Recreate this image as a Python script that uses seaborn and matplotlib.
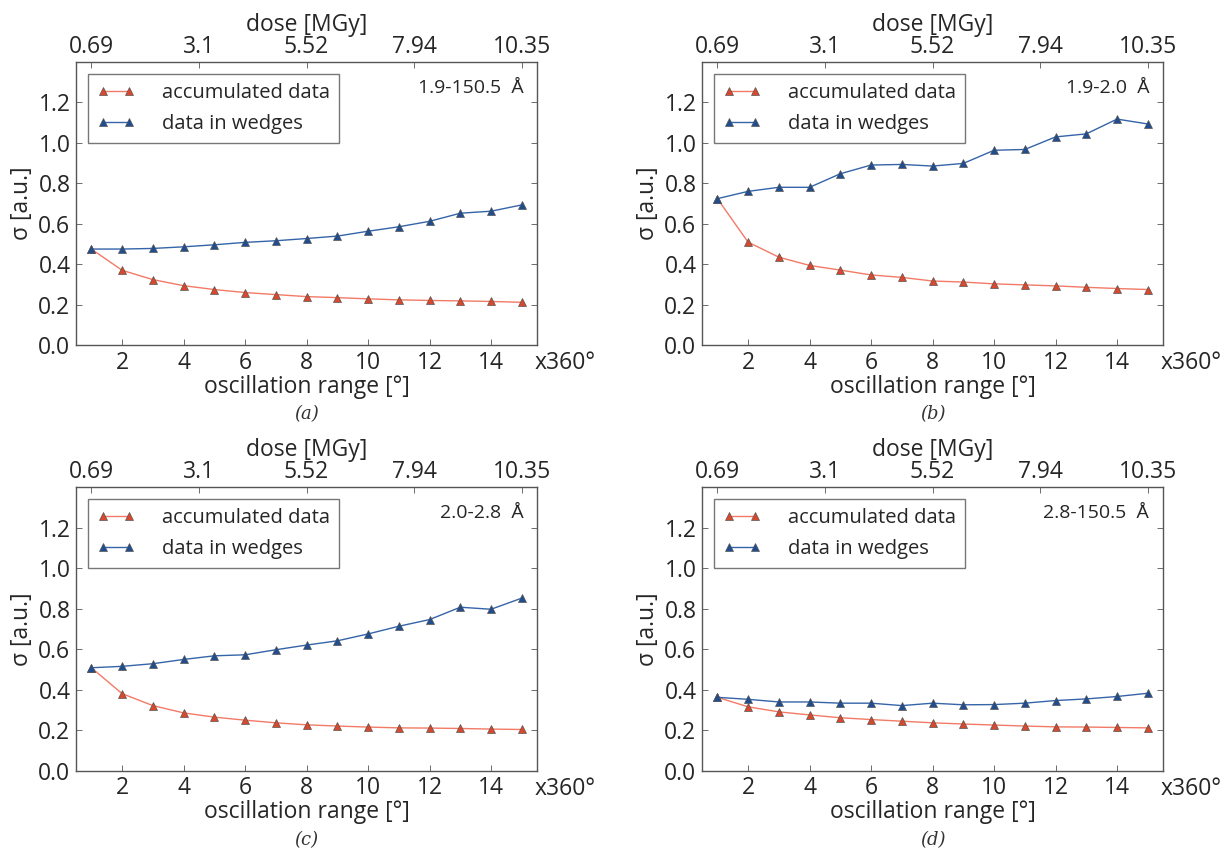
import matplotlib
matplotlib.use('Agg')
import matplotlib.pyplot as plt
import seaborn as sns
import pandas as pd

sns.set_style('white')
plt.rcParams['font.family'] = ['Open Sans', 'DejaVu Sans']
plt.rcParams['xtick.direction'] = 'in'
plt.rcParams['ytick.direction'] = 'in'

rotations = list(range(1, 16))
dose_ticks = [1, 4.5, 8, 11.5, 15]
dose_labels = ['0.69', '3.1', '5.52', '7.94', '10.35']

shells = ['1.9-150.5  Å', '1.9-2.0  Å', '2.0-2.8  Å', '2.8-150.5  Å']
captions = ['(a)', '(b)', '(c)', '(d)']

accum_a = [0.474, 0.369, 0.323, 0.293, 0.274, 0.259, 0.249, 0.239, 0.234, 0.228, 0.223, 0.220, 0.218, 0.215, 0.211]
wedge_a = [0.474, 0.474, 0.477, 0.485, 0.495, 0.507, 0.515, 0.526, 0.538, 0.562, 0.584, 0.611, 0.651, 0.661, 0.692]

accum_b = [0.723, 0.508, 0.434, 0.393, 0.370, 0.346, 0.334, 0.316, 0.311, 0.302, 0.297, 0.292, 0.285, 0.279, 0.274]
wedge_b = [0.723, 0.759, 0.779, 0.779, 0.846, 0.889, 0.892, 0.884, 0.897, 0.962, 0.966, 1.028, 1.043, 1.116, 1.092]

accum_c = [0.508, 0.380, 0.321, 0.285, 0.264, 0.249, 0.236, 0.226, 0.220, 0.215, 0.211, 0.210, 0.208, 0.205, 0.203]
wedge_c = [0.508, 0.515, 0.528, 0.549, 0.567, 0.572, 0.597, 0.620, 0.641, 0.675, 0.713, 0.746, 0.807, 0.797, 0.852]

accum_d = [0.362, 0.315, 0.290, 0.275, 0.261, 0.252, 0.244, 0.236, 0.230, 0.225, 0.220, 0.216, 0.215, 0.213, 0.211]
wedge_d = [0.362, 0.352, 0.339, 0.339, 0.333, 0.333, 0.321, 0.333, 0.325, 0.326, 0.333, 0.346, 0.354, 0.366, 0.382]

panels = [(accum_a, wedge_a), (accum_b, wedge_b), (accum_c, wedge_c), (accum_d, wedge_d)]

red_line, red_mark = '#f37a66', '#d9482c'
blue_line, blue_mark = '#3564a8', '#1f4d8f'
edge = '#555555'

fig = plt.figure(figsize=(12.2, 8.51), dpi=100)
boxes = [
    [0.0623, 0.5946, 0.378, 0.333],
    [0.5754, 0.5946, 0.378, 0.333],
    [0.0623, 0.0945, 0.378, 0.333],
    [0.5754, 0.0945, 0.378, 0.333],
]

for box, (accum, wedge), shell, cap in zip(boxes, panels, shells, captions):
    ax = fig.add_axes(box)
    df = pd.DataFrame({'rot': rotations, 'accum': accum, 'wedge': wedge})
    sns.lineplot(data=df, x='rot', y='accum', ax=ax, color=red_line, lw=1.0,
                 marker='^', markersize=5.5, markerfacecolor=red_mark,
                 markeredgecolor=edge, markeredgewidth=0.5,
                 label='accumulated data')
    sns.lineplot(data=df, x='rot', y='wedge', ax=ax, color=blue_line, lw=1.0,
                 marker='^', markersize=5.5, markerfacecolor=blue_mark,
                 markeredgecolor=edge, markeredgewidth=0.5,
                 label='data in wedges')

    ax.set_xlim(0.5, 15.5)
    ax.set_ylim(0, 1.4)
    ax.set_xticks([2, 4, 6, 8, 10, 12, 14])
    ax.set_yticks([0.0, 0.2, 0.4, 0.6, 0.8, 1.0, 1.2])
    ax.set_yticklabels(['0.0', '0.2', '0.4', '0.6', '0.8', '1.0', '1.2'])
    ax.tick_params(labelsize=16.5, length=4, width=0.6, color='#555555',
                   right=True, left=True, bottom=True, pad=4)
    ax.set_xlabel('oscillation range [°]', fontsize=16.5, labelpad=0)
    ax.set_ylabel('σ [a.u.]', fontsize=16.5, labelpad=3)
    for s in ax.spines.values():
        s.set_color('#555555')
        s.set_linewidth(1.0)

    ax.text(0.995, -0.022, 'x360°', transform=ax.transAxes, fontsize=16.5,
            ha='left', va='top')
    ax.text(0.97, 0.908, shell, transform=ax.transAxes, fontsize=14,
            ha='right', va='center')
    ax.text(0.5, -0.245, cap, transform=ax.transAxes, fontsize=13,
            ha='center', va='center', family='DejaVu Serif', style='italic',
            color='#333333')

    leg = ax.legend(loc='upper left', numpoints=2, fontsize=14.5,
                    frameon=True, fancybox=False, handlelength=1.9,
                    borderpad=0.45, labelspacing=0.55, handletextpad=1.3,
                    borderaxespad=0.6)
    leg.get_frame().set_edgecolor('#555555')
    leg.get_frame().set_linewidth(1.0)

    top = ax.twiny()
    top.set_xlim(ax.get_xlim())
    top.set_xticks(dose_ticks)
    top.set_xticklabels(dose_labels)
    top.tick_params(labelsize=16.5, length=4, width=0.6, color='#555555', pad=2)
    top.set_xlabel('dose [MGy]', fontsize=16.5, labelpad=3)
    for s in top.spines.values():
        s.set_visible(False)

fig.savefig('out.png', dpi=100)
